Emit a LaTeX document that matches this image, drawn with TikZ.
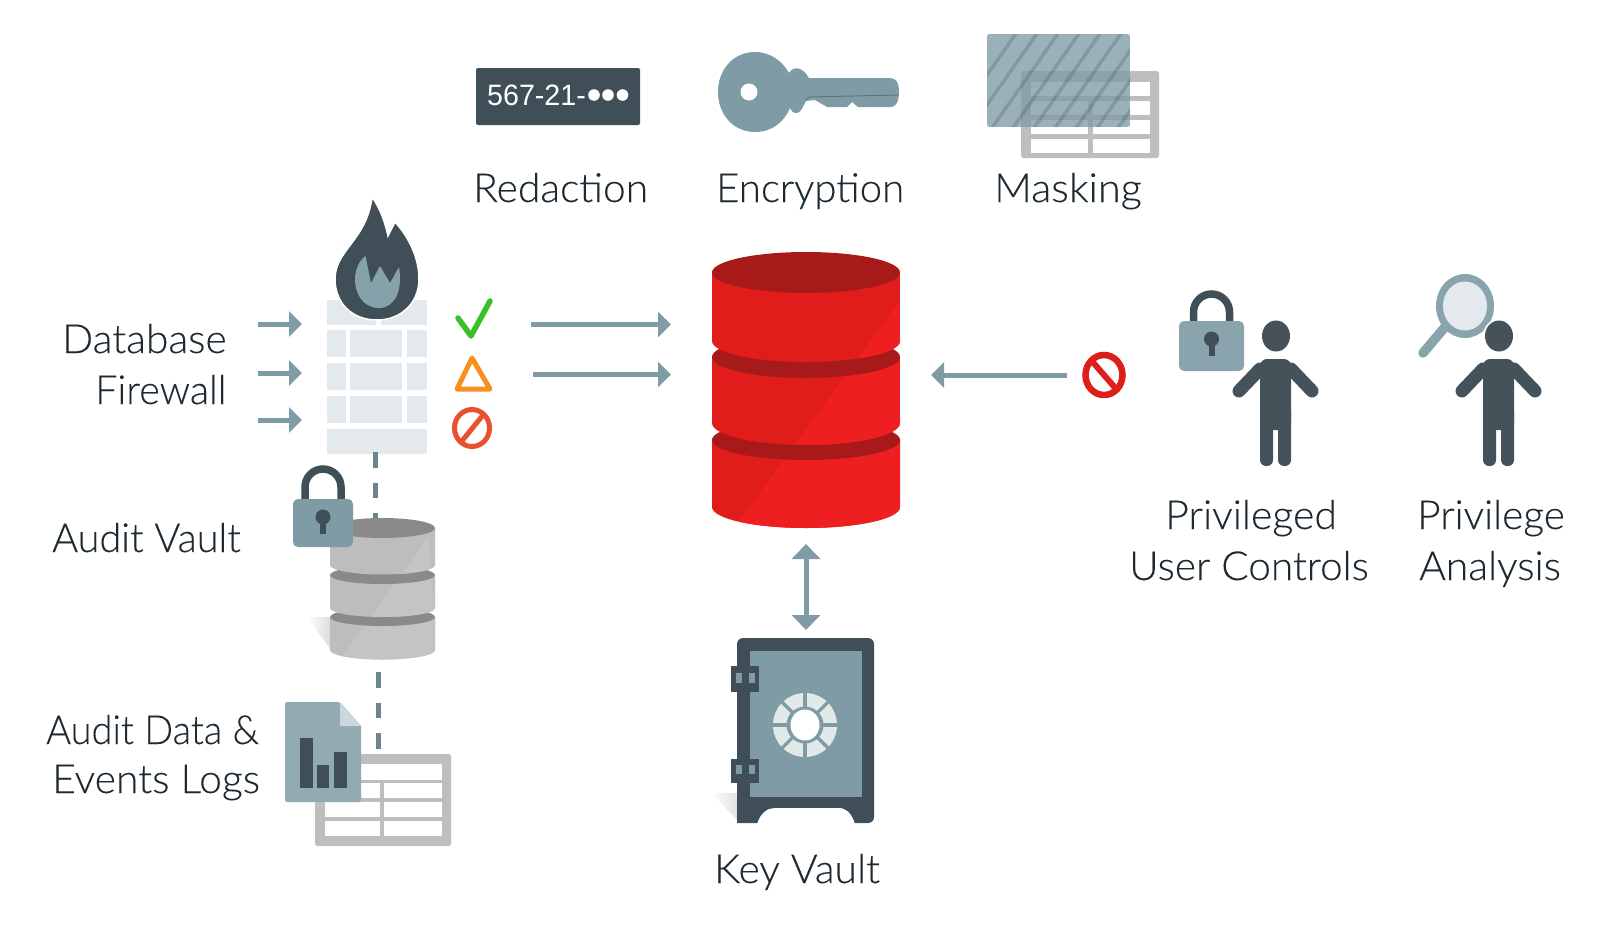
\documentclass[tikz,border=0pt]{standalone}
\usepackage{fontspec}
\setmainfont{Lato Light}[FakeBold=0.12]
\newfontfamily\plateFont{Liberation Sans}
\usetikzlibrary{arrows.meta}
\definecolor{teal}{HTML}{7F9CA6}
\definecolor{slate}{HTML}{3F4E57}
\definecolor{figslate}{HTML}{465259}
\definecolor{inktext}{HTML}{1E2A32}
\definecolor{wallcol}{HTML}{E3E9EC}
\definecolor{tblgray}{HTML}{BEBEBE}
\definecolor{redA}{HTML}{E01D1B}
\definecolor{redB}{HTML}{EE1F20}
\definecolor{redC}{HTML}{A81A19}
\definecolor{grayA}{HTML}{BDBDBD}
\definecolor{grayB}{HTML}{C4C4C4}
\definecolor{grayC}{HTML}{8A8A8A}
\tikzset{
  lbl/.style={anchor=base west,inner sep=0pt,text=inktext,font=\fontsize{40}{48}\selectfont},
  flow/.style={draw=teal,line width=5pt,-{Triangle[length=13pt,width=25pt]}},
  flowtwo/.style={draw=teal,line width=5pt,{Triangle[length=15pt,width=28pt]}-{Triangle[length=15pt,width=28pt]}},
  dashlink/.style={draw=teal!85!black,line width=5pt,dash pattern=on 15.5pt off 15pt},
}
\newcommand\xs[2]{\scalebox{#1}[1]{#2}}
% #1 cx, #2 rx, #3 ytop, #4 ybot, #5 ry, #6 base, #7 light, #8 light polygon
\newcommand\dbseg[8]{
  \begin{scope}
    \clip (#1-#2,#3) -- (#1-#2,#4) arc[start angle=180,end angle=360,x radius=#2pt,y radius=#5pt]
      -- (#1+#2,#3) -- cycle;
    \fill[#6] (#1-#2-1,#3-#5-1) rectangle (#1+#2+1,#4+#5+1);
    \fill[#7] #8;
  \end{scope}
}
% person at horizontal offset #1
\newcommand\personfig[1]{
  \begin{scope}[xshift=#1pt]
    \fill[white] (1276,336) circle[x radius=16pt,y radius=17pt];
    \fill[figslate] (1276,336) circle[x radius=14pt,y radius=15.5pt];
    \draw[figslate,line width=13pt,line cap=round] (1260,369) -- (1239,391);
    \draw[figslate,line width=13pt,line cap=round] (1291,369) -- (1312,391);
    \fill[figslate,rounded corners=7pt] (1260,430) -- (1260,359) -- (1291,359) -- (1291,430) -- cycle;
    \fill[figslate] (1260,375) rectangle (1291,414);
    \fill[figslate,rounded corners=6pt] (1260,405) rectangle (1273,466);
    \fill[figslate,rounded corners=6pt] (1278,405) rectangle (1291,466);
  \end{scope}
}
% padlock: #1 left,#2 right,#3 top body,#4 bottom,#5 shackle top,#6 body colour
\newcommand\padlock[6]{
  \pgfmathsetmacro\lkc{(#1+#2)/2}
  \draw[slate,line width=7.5pt] (\lkc-18,#3+2) -- (\lkc-18,#5+22) arc[start angle=180,end angle=0,radius=18pt] -- (\lkc+18,#3+2);
  \fill[#6,rounded corners=5pt] (#1,#3) rectangle (#2,#4);
  \fill[slate] (\lkc,#3+18) circle[radius=7.5pt];
  \fill[slate] (\lkc-3,#3+18) rectangle (\lkc+3,#3+35);
}
\begin{document}
\begin{tikzpicture}[x=1pt,y=-1pt]
\useasboundingbox (0,0) rectangle (1612,924);
\fill[white] (0,0) rectangle (1612,924);

% ---- connector end points
\coordinate (fwinA) at (258,324); \coordinate (fwinAe) at (302,324);
\coordinate (fwinB) at (258,373); \coordinate (fwinBe) at (302,373);
\coordinate (fwinC) at (258,420); \coordinate (fwinCe) at (302,420);
\coordinate (fwoutA) at (531,324.5); \coordinate (fwoutAe) at (671,324.5);
\coordinate (fwoutB) at (533,374.5); \coordinate (fwoutBe) at (671,374.5);
\coordinate (blockS) at (1067,375); \coordinate (blockE) at (931,375);
\coordinate (keyT) at (806,544); \coordinate (keyB) at (806,630);
\coordinate (dashA) at (375,452); \coordinate (dashAe) at (375,530);
\coordinate (dashB) at (378,672); \coordinate (dashBe) at (378,750);

% ---- firewall wall
\foreach \ya/\yb in {330/357,363/390,396/423}{
  \fill[wallcol] (327,\ya) rectangle (345.5,\yb);
  \fill[wallcol] (350,\ya) rectangle (402,\yb);
  \fill[wallcol] (406.5,\ya) rectangle (427,\yb);
}
\fill[wallcol] (327,300) rectangle (427,325);
\fill[wallcol] (327,429) rectangle (427,454);
\fill[white] (376,316) rectangle (381,326);

% flame
\path[fill=slate,draw=white,line width=1.5pt]
  (372,197) .. controls (380,208) and (385,222) .. (388,236) -- (395,222)
  .. controls (407,235) and (419,256) .. (419,279)
  .. controls (419,303) and (401,320) .. (377,320)
  .. controls (351,320) and (335,302) .. (335,279)
  .. controls (335,250) and (367,240) .. (372,197) -- cycle;
\fill[teal!95!white]
  (365.5,256) -- (371,283) -- (380,266) -- (390,283) -- (399,267)
  .. controls (403,290) and (395,308) .. (379,308)
  .. controls (362,308) and (355,292) .. (355,280)
  .. controls (355,268) and (360,260) .. (365.5,256) -- cycle;

\draw[flow] (fwinA) -- (fwinAe);
\draw[flow] (fwinB) -- (fwinBe);
\draw[flow] (fwinC) -- (fwinCe);
\draw[flow] (fwoutA) -- (fwoutAe);
\draw[flow] (fwoutB) -- (fwoutBe);

% status marks
\draw[color={rgb,255:red,60;green,192;blue,42},line width=5.5pt,line cap=round,line join=round] (458,318) -- (471,336) -- (490,301);
\draw[color={rgb,255:red,247;green,144;blue,30},line width=5pt,line join=round] (472,358) -- (457,389) -- (490,389) -- cycle;
\draw[color={rgb,255:red,233;green,80;blue,46},line width=5pt] (472,428) circle[x radius=17.5pt,y radius=18.5pt];
\draw[color={rgb,255:red,233;green,80;blue,46},line width=5pt] (462,441) -- (483,415);

% ---- top row: redaction
\fill[slate,rounded corners=2pt] (476,68) rectangle (640,125);
\node[anchor=base west,inner sep=0pt,text=white,font=\plateFont\fontsize{29.5}{30}\selectfont] (plate) at (487,105) {\xs{.97}{567-21-}};
\foreach \dx in {594,608,622.5}{\fill[white] (\dx,95) circle[radius=5.8pt];}

% key
\fill[teal]
  (755,52) .. controls (771,52) and (783,62) .. (789,73)
  .. controls (793,66) and (802,66) .. (809,78)
  -- (890,78) .. controls (896,78) and (899,83) .. (899,90)
  .. controls (899,101) and (897,107) .. (890,107)
  -- (858,107) -- (852,102) -- (847,107) -- (827,107) -- (815,100) -- (806,101)
  .. controls (803,106) and (801,113) .. (797,113)
  .. controls (793,113) and (791,111) .. (790,108)
  .. controls (784,122) and (772,132) .. (755,132)
  .. controls (733,132) and (718,114) .. (718,92)
  .. controls (718,70) and (733,52) .. (755,52) -- cycle;
\draw[teal!75!black,line width=1pt] (806,100) -- (809,97) -- (898,95);
\fill[white] (749,92) circle[radius=8.5pt];

% masking
\fill[tblgray,rounded corners=2.5pt] (1021,71) rectangle (1159,158);
\fill[white] (1031,82) rectangle (1150,96);
\foreach \ya/\yb in {100.5/115,120/134,139/153}{
  \fill[white] (1031,\ya) rectangle (1088,\yb);
  \fill[white] (1092.5,\ya) rectangle (1150,\yb);
}
\begin{scope}
  \clip[rounded corners=2.5pt] (987,34) rectangle (1130,127);
  \fill[teal,opacity=.78] (987,34) rectangle (1130,127);
  \foreach \k in {0,...,11}{
    \draw[slate,opacity=.25,line width=3.5pt] (945+\k*21,135) -- (1022+\k*21,25);
  }
\end{scope}

% ---- centre database
\dbseg{806}{94}{440}{507}{21}{redA}{redB}{(900,300) -- (735,527) -- (902,540) -- cycle}
\fill[redC] (806,440) circle[x radius=94pt,y radius=20pt];
\dbseg{806}{94}{357}{423}{22}{redA}{redB}{(900,300) -- (735,527) -- (902,540) -- cycle}
\fill[redC] (806,357) circle[x radius=94pt,y radius=21pt];
\dbseg{806}{94}{272.5}{341}{21}{redA}{redB}{(900,300) -- (735,527) -- (902,540) -- cycle}
\fill[redC] (806,272.5) circle[x radius=94pt,y radius=20.5pt];

% blocked access
\draw[flow] (blockS) -- (blockE);
\draw[color={rgb,255:red,220;green,31;blue,26},line width=6.5pt] (1104,375) circle[x radius=18.5pt,y radius=20pt];
\draw[color={rgb,255:red,220;green,31;blue,26},line width=6pt] (1091,360) -- (1117,390);

% key vault
\draw[flowtwo] (keyT) -- (keyB);
\shade[left color=white,right color=black!12] (712,793) -- (737,820) -- (737,793) -- cycle;
\path[fill=slate,rounded corners=6pt] (737,823) -- (737,638) -- (874,638) -- (874,823) [sharp corners] -- (737,823) -- cycle;
\fill[white] (757,824) .. controls (761,812) and (768,808) .. (775,808) -- (838,808) .. controls (846,808) and (851,812) .. (855,824) -- cycle;
\fill[teal] (750,651) rectangle (862,797);
\foreach \ya/\yb/\sa/\sb in {666/692/673/683,759/783/765/774}{
  \fill[slate] (731,\ya) rectangle (759,\yb);
  \fill[teal] (736,\sa) rectangle (742,\sb);
  \fill[teal] (749,\sa) rectangle (755,\sb);
}
\fill[black!5!wallcol!70!white] (805,725) circle[radius=32pt];
\foreach \a in {0,45,...,315}{\draw[teal,line width=3.2pt] (805,725) -- +(\a:33pt);}
\fill[teal] (805,725) circle[radius=18.5pt];
\fill[white] (805,725) circle[x radius=14.5pt,y radius=15.5pt];

% ---- left column: audit vault
\draw[dashlink] (dashA) -- (dashAe);
\shade[left color=white,right color=black!14] (307,617) -- (331,650) -- (331,617) -- cycle;
\dbseg{382.5}{52.5}{617}{650}{9.5}{grayA}{grayB}{(428,537) -- (340,660) -- (440,665) -- cycle}
\fill[grayC] (382.5,617) circle[x radius=52.5pt,y radius=9pt];
\dbseg{382.5}{52.5}{575}{608}{9}{grayA}{grayB}{(428,537) -- (340,660) -- (440,665) -- cycle}
\fill[grayC] (382.5,575) circle[x radius=52.5pt,y radius=9pt];
\dbseg{382.5}{52.5}{528}{565}{9.5}{grayA}{grayB}{(428,537) -- (340,660) -- (440,665) -- cycle}
\fill[grayC] (382.5,528) circle[x radius=52.5pt,y radius=10pt];
\padlock{293}{353}{499}{547}{465}{teal}

% audit logs
\draw[dashlink] (dashB) -- (dashBe);
\fill[tblgray,rounded corners=2.5pt] (315,754) rectangle (451,846);
\fill[white] (325,764) rectangle (442,780);
\foreach \ya/\yb in {783/798,802/817,821/836}{
  \fill[white] (325,\ya) rectangle (380,\yb);
  \fill[white] (384,\ya) rectangle (442,\yb);
}
\fill[teal!85!white,rounded corners=2pt] (285,802) -- (285,702) -- (340,702) [sharp corners] -- (361,726) [rounded corners=2pt] -- (361,802) -- cycle;
\fill[teal!40!white] (340,702) -- (361,726) -- (340,726) -- cycle;
\fill[slate] (300,738) rectangle (313,788);
\fill[slate] (317,765) rectangle (329,788);
\fill[slate] (334,752) rectangle (347,788);

% ---- right: users
\padlock{1179}{1244}{321}{371}{290}{teal!92!white}
\personfig{0}
\draw[teal!92!white,line width=9.5pt,line cap=round] (1445,327) -- (1423,353);
\fill[teal!92!white] (1465,306) circle[x radius=29pt,y radius=32pt];
\fill[wallcol] (1465,306) circle[x radius=22pt,y radius=24.5pt];
\personfig{223}

% ---- labels
\node[lbl] (redaction) at (473,202) {\xs{1.018}{Redaction}};
\node[lbl] (encryption) at (716,202) {\xs{1.005}{Encryption}};
\node[lbl] (masking) at (994,202) {\xs{1.037}{Masking}};
\node[lbl] (database) at (62,353) {\xs{1.02}{Database}};
\node[lbl] (firewall) at (95,404) {\xs{.99}{Firewall}};
\node[lbl] (auditvault) at (52,552) {\xs{.99}{Audit Vault}};
\node[lbl] (auditdata) at (46,744) {\xs{.95}{Audit Data \&}};
\node[lbl] (eventslogs) at (52,793) {\xs{1.02}{Events Logs}};
\node[lbl] (keyvault) at (714,883) {\xs{1.02}{Key Vault}};
\node[lbl] (privileged) at (1165,529) {\xs{1.025}{Privileged}};
\node[lbl] (usercontrols) at (1129,580) {\xs{1.013}{User Controls}};
\node[lbl] (privilege) at (1417,529) {\xs{1.015}{Privilege}};
\node[lbl] (analysis) at (1419,580) {\xs{1.02}{Analysis}};
\end{tikzpicture}
\end{document}
